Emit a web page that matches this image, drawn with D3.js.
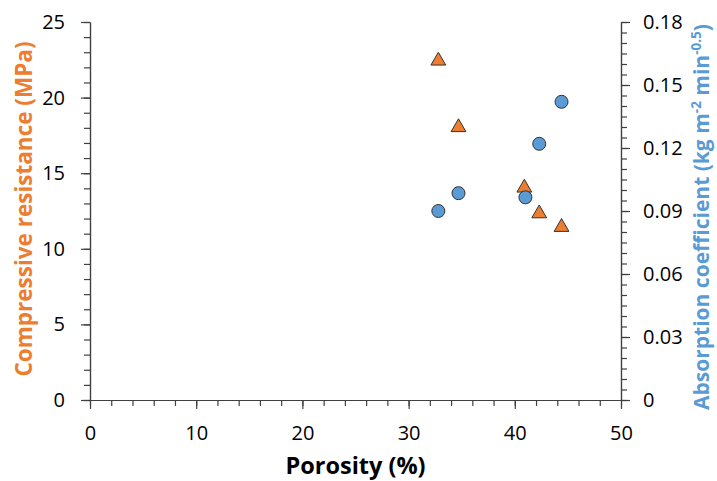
<!DOCTYPE html>
<html>
<head>
<meta charset="utf-8">
<script src="https://cdn.jsdelivr.net/npm/d3@7"></script>
<style>
  body { margin: 0; background: #fff; }
  text { font-family: "Open Sans", "Liberation Sans", sans-serif; }
</style>
</head>
<body>
<svg id="chart" width="717" height="481"></svg>
<script>
'use strict';

// porosity (%) for each sample
const porosity = [32.8, 34.7, 40.9, 42.3, 44.4];
// compressive resistance (MPa), left axis
const compressive = [22.5, 18.1, 14.1, 12.4, 11.5];
// absorption coefficient, right axis (x slightly differs for overlap)
const absorptionX = [32.8, 34.7, 41.0, 42.3, 44.4];
const absorption = [0.090, 0.0985, 0.0965, 0.122, 0.142];

const xTicks = [0, 10, 20, 30, 40, 50];
const yLeftTicks = [0, 5, 10, 15, 20, 25];
const yRightTicks = [0, 0.03, 0.06, 0.09, 0.12, 0.15, 0.18];

const orange = '#ED7D31';
const blue = '#5B9BD5';
const ink = '#404040';

const svg = d3.select('#chart');
const plotLeft = 90, plotRight = 621, plotTop = 22, plotBottom = 400;

const x = d3.scaleLinear().domain([0, 50]).range([plotLeft, plotRight]);
const yL = d3.scaleLinear().domain([0, 25]).range([plotBottom, plotTop]);
const yR = d3.scaleLinear().domain([0, 0.18]).range([plotBottom, plotTop]);

function styleAxis(g) {
    g.selectAll('.domain').attr('stroke', ink).attr('stroke-width', 1.2);
    g.selectAll('.tick line').attr('stroke', ink).attr('stroke-width', 1.2);
    g.selectAll('.tick text')
        .attr('fill', '#000')
        .attr('font-size', 20);
}

// minor ticks first
svg.append('g')
    .attr('transform', 'translate(0,' + plotBottom + ')')
    .call(d3.axisBottom(x).tickValues(d3.range(0, 51, 2)).tickSize(6).tickFormat('').tickSizeOuter(0))
    .call(styleAxis);
svg.append('g')
    .attr('transform', 'translate(' + plotLeft + ',0)')
    .call(d3.axisLeft(yL).tickValues(d3.range(0, 26, 1)).tickSize(6).tickFormat('').tickSizeOuter(0))
    .call(styleAxis);
svg.append('g')
    .attr('transform', 'translate(' + plotRight + ',0)')
    .call(d3.axisRight(yR).tickValues(d3.range(0, 37).map(d => d * 0.005)).tickSize(6).tickFormat('').tickSizeOuter(0))
    .call(styleAxis);

// major ticks with labels
svg.append('g')
    .attr('transform', 'translate(0,' + plotBottom + ')')
    .call(d3.axisBottom(x).tickValues(xTicks).tickSize(9).tickPadding(17).tickSizeOuter(0))
    .call(styleAxis);
svg.append('g')
    .attr('transform', 'translate(' + plotLeft + ',0)')
    .call(d3.axisLeft(yL).tickValues(yLeftTicks).tickSize(9).tickPadding(16).tickSizeOuter(0))
    .call(styleAxis);
svg.append('g')
    .attr('transform', 'translate(' + plotRight + ',0)')
    .call(d3.axisRight(yR).tickValues(yRightTicks).tickSize(9).tickPadding(13)
        .tickFormat(d => d === 0 ? '0' : d3.format('.2f')(d)).tickSizeOuter(0))
    .call(styleAxis);

// axis titles
svg.append('text')
    .attr('x', (plotLeft + plotRight) / 2)
    .attr('y', 474)
    .attr('text-anchor', 'middle')
    .attr('font-size', 23.5)
    .attr('font-weight', 'bold')
    .attr('fill', '#000')
    .text('Porosity (%)');

svg.append('text')
    .attr('transform', 'translate(32,209) rotate(-90)')
    .attr('text-anchor', 'middle')
    .attr('font-size', 22.5)
    .attr('font-weight', 'bold')
    .attr('fill', orange)
    .text('Compressive resistance (MPa)');

const rt = svg.append('text')
    .attr('transform', 'translate(709,217) rotate(-90)')
    .attr('text-anchor', 'middle')
    .attr('font-size', 21)
    .attr('font-weight', 'bold')
    .attr('fill', blue);
rt.append('tspan').text('Absorption coefficient (kg m');
rt.append('tspan').attr('font-size', 13.5).attr('dy', -8).text('-2');
rt.append('tspan').attr('dy', 8).text(' min');
rt.append('tspan').attr('font-size', 13.5).attr('dy', -8).text('-0.5');
rt.append('tspan').attr('dy', 8).text(')');

// markers
const tri = d3.symbol().type(d3.symbolTriangle).size(95);
svg.append('g').selectAll('path')
    .data(porosity)
    .join('path')
    .attr('d', tri)
    .attr('transform', (d, i) => 'translate(' + x(d) + ',' + (yL(compressive[i]) + 1) + ')')
    .attr('fill', orange)
    .attr('stroke', '#333')
    .attr('stroke-width', 1);

svg.append('g').selectAll('circle')
    .data(absorptionX)
    .join('circle')
    .attr('cx', d => x(d))
    .attr('cy', (d, i) => yR(absorption[i]))
    .attr('r', 6.5)
    .attr('fill', blue)
    .attr('stroke', '#333')
    .attr('stroke-width', 1);
</script>
</body>
</html>
